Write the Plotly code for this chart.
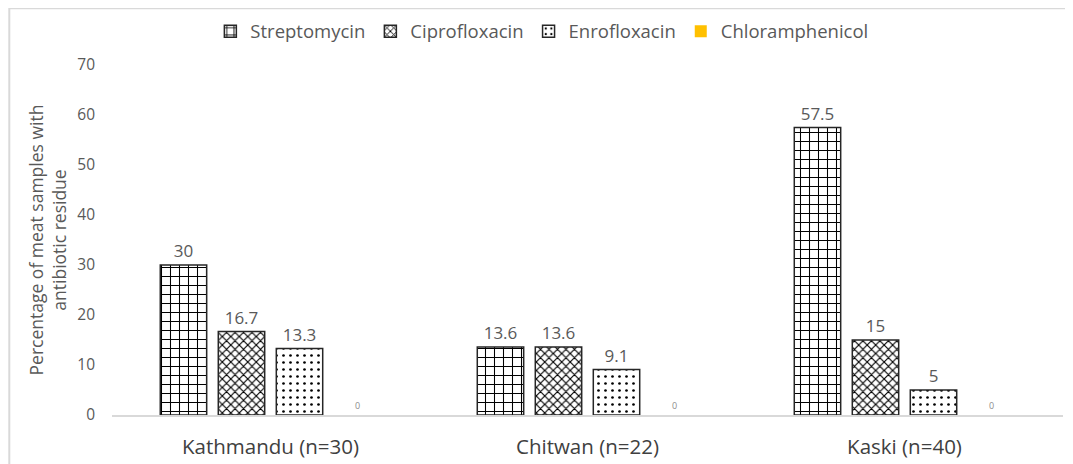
import plotly.graph_objects as go

categories = ["Kathmandu (n=30)", "Chitwan (n=22)", "Kaski (n=40)"]
streptomycin = [30, 13.6, 57.5]
ciprofloxacin = [16.7, 13.6, 15]
enrofloxacin = [13.3, 9.1, 5]
chloramphenicol = [0, 0, 0]
series_names = ["Streptomycin", "Ciprofloxacin", "Enrofloxacin", "Chloramphenicol"]

FONT = "Open Sans, Lato, sans-serif"
fig = go.Figure()

styles = [
    dict(shape="+", size=9, solidity=0.22),
    dict(shape="x", size=6, solidity=0.35),
    dict(shape=".", size=7, solidity=0.12),
]
for name, vals, st in zip(series_names[:3], [streptomycin, ciprofloxacin, enrofloxacin], styles):
    fig.add_trace(go.Bar(
        name=name, x=categories, y=vals,
        text=[f"{v:g}" for v in vals], textposition="outside",
        textfont=dict(size=17, color="#595959", family=FONT),
        cliponaxis=False,
        marker=dict(color="white",
                    line=dict(color="#262626", width=1.5),
                    pattern=dict(shape=st["shape"], size=st["size"], solidity=st["solidity"],
                                 fgcolor="black", bgcolor="white", fillmode="replace")),
    ))

fig.add_trace(go.Bar(
    name=series_names[3], x=categories, y=chloramphenicol,
    text=[f"{v:g}" for v in chloramphenicol], textposition="outside",
    textfont=dict(size=9, color="#8c8c8c", family=FONT),
    cliponaxis=False,
    marker=dict(color="#FFC000", line=dict(width=0)),
))

fig.update_layout(
    width=1065, height=456,
    margin=dict(l=104, r=10, t=57, b=49, autoexpand=False),
    paper_bgcolor="white", plot_bgcolor="white",
    barmode="group", bargap=0.268, bargroupgap=0.2,
    font=dict(family=FONT, color="#595959", size=16),
    legend=dict(orientation="h", x=0.452, xanchor="center", y=1.095, yanchor="middle",
                font=dict(size=18.5, color="#595959", family=FONT),
                itemwidth=30, traceorder="normal"),
    showlegend=True,
    shapes=[dict(type="rect", xref="paper", yref="paper",
                 x0=-0.108, x1=1.05, y0=-0.3, y1=1.162,
                 line=dict(color="#d9d9d9", width=2), layer="below")],
)
fig.update_yaxes(range=[0, 70], dtick=10, showgrid=False, zeroline=False,
                 showline=False, ticks="", ticklabelstandoff=16, automargin=False,
                 tickfont=dict(size=15.5, color="#595959", family=FONT),
                 title=dict(text="Percentage of meat samples with<br>antibiotic residue",
                            font=dict(size=17.5, color="#595959", family=FONT), standoff=6))
fig.update_xaxes(showgrid=False, showline=True, linecolor="#d9d9d9", linewidth=1.5,
                 ticks="", ticklabelstandoff=13, automargin=False,
                 tickfont=dict(size=20.5, color="#404040", family=FONT))

fig.write_html("out.html")
